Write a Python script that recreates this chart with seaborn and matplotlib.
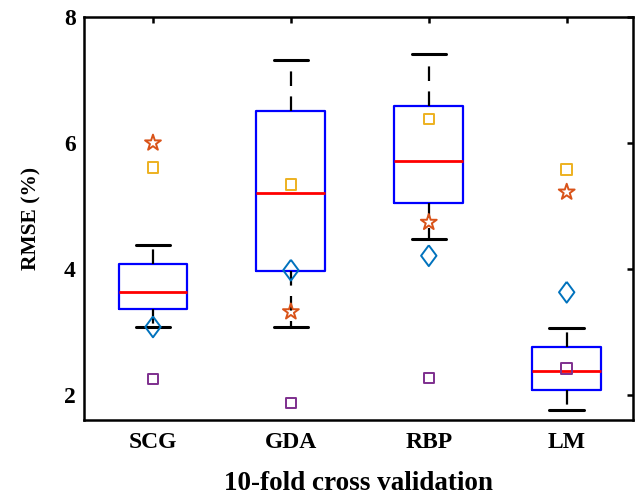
import matplotlib
matplotlib.use("Agg")
import matplotlib.pyplot as plt
import seaborn as sns
import pandas as pd
import numpy as np

# ---- data ----
methods = ["SCG", "GDA", "RBP", "LM"]
# five-number summaries: lower whisker, q1, median, q3, upper whisker
whisker_low = [3.08, 3.08, 4.47, 1.76]
q1 = [3.37, 3.96, 5.05, 2.08]
median = [3.63, 5.21, 5.71, 2.38]
q3 = [4.08, 6.50, 6.59, 2.76]
whisker_high = [4.38, 7.31, 7.42, 3.06]

# individual marker series
star_vals = [6.00, 3.32, 4.74, 5.22]
orange_sq_vals = [5.61, 5.34, 6.38, 5.58]
diamond_vals = [3.08, 3.98, 4.21, 3.63]
purple_sq_vals = [2.25, 1.87, 2.27, 2.42]

yticks = [2, 4, 6, 8]
ylabel = "RMSE (%)"
xlabel = "10-fold cross validation"

# ---- styling ----
sns.set_style("white")
plt.rcParams["font.family"] = ["Liberation Serif", "DejaVu Serif"]
plt.rcParams["font.weight"] = "bold"
plt.rcParams["axes.labelweight"] = "bold"
plt.rcParams["lines.scale_dashes"] = False
for k in ("text.color", "axes.labelcolor", "xtick.color", "ytick.color"):
    plt.rcParams[k] = "black"

fig = plt.figure(figsize=(6.38, 4.98), dpi=100)
ax = fig.add_axes([0.1317, 0.1576, 0.8603, 0.8083])

rows = []
for i, m in enumerate(methods):
    for v in (whisker_low[i], q1[i], median[i], q3[i], whisker_high[i]):
        rows.append({"method": m, "value": v})
box_df = pd.DataFrame(rows)

sns.boxplot(
    data=box_df, x="method", y="value", order=methods, ax=ax,
    width=0.5, whis=1.5, fill=False, color="blue", linewidth=1.6,
    showfliers=False,
    boxprops={"color": "blue", "linewidth": 1.6},
    medianprops={"color": "red", "linewidth": 2.0},
    whiskerprops={"color": "black", "linewidth": 1.6, "linestyle": (0, (10.5, 7.5))},
    capprops={"color": "black", "linewidth": 2.2},
)

diamond_marker = [(0, 1), (0.74, 0), (0, -1), (-0.74, 0), (0, 1)]
series = [
    (orange_sq_vals, "s", "#EDB120", 7.5),
    (purple_sq_vals, "s", "#7E2F8E", 7.5),
    (diamond_vals, diamond_marker, "#0072BD", 15),
    (star_vals, "*", "#D95319", 12),
]
for vals, mk, col, ms in series:
    sdf = pd.DataFrame({"method": methods, "value": vals})
    n_before = len(ax.collections)
    sns.stripplot(data=sdf, x="method", y="value", order=methods, ax=ax,
                  jitter=False, marker=mk, size=ms, color=col, linewidth=1.4,
                  zorder=4)
    for coll in ax.collections[n_before:]:
        coll.set_facecolor("none")
        coll.set_edgecolor(col)
        coll.set_linewidth(1.4)

ax.set_xlim(-0.5, 3.48)
ax.set_ylim(1.61, 8)
ax.set_yticks(yticks)
ax.set_yticklabels([str(t) for t in yticks])
ax.set_xticks(range(len(methods)))
ax.set_xticklabels(methods)

for sp in ax.spines.values():
    sp.set_visible(True)
    sp.set_color("black")
    sp.set_linewidth(1.8)

ax.tick_params(axis="both", direction="in", length=4, width=1.8,
               top=True, right=True, labelsize=17, colors="black")
ax.tick_params(axis="x", pad=9)
ax.tick_params(axis="y", pad=6)

ax.set_xlabel(xlabel, fontsize=19.5, fontweight="bold", labelpad=13)
ax.set_ylabel(ylabel, fontsize=15.5, fontweight="bold", labelpad=16)

fig.savefig("out.png", dpi=100)
